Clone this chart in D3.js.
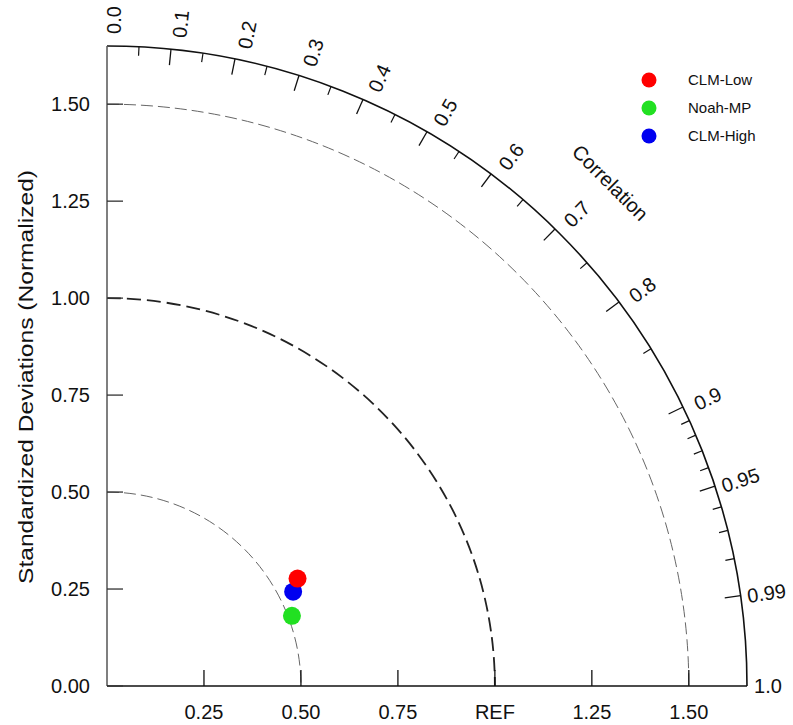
<!DOCTYPE html>
<html>
<head>
<meta charset="utf-8">
<script src="https://cdn.jsdelivr.net/npm/d3@7"></script>
<style>
  body { margin: 0; background: #fff; }
  text { font-family: "Liberation Sans", Arial, sans-serif; fill: #111; }
</style>
</head>
<body>
<script>
// Taylor diagram data
var models = ["CLM-Low", "Noah-MP", "CLM-High"];
var stdDev = [0.564, 0.510, 0.538];
var correlation = [0.871, 0.935, 0.892];
var colors = ["#ff0000", "#22e022", "#0000f0"];

// axis ticks
var stdTicks = [0.25, 0.5, 0.75, 1.0, 1.25, 1.5];
var xTickLabels = ["0.25", "0.50", "0.75", "REF", "1.25", "1.50"];
var yTicks = [0, 0.25, 0.5, 0.75, 1.0, 1.25, 1.5];
var yTickLabels = ["0.00", "0.25", "0.50", "0.75", "1.00", "1.25", "1.50"];
var corrLabelValues = [0, 0.1, 0.2, 0.3, 0.4, 0.5, 0.6, 0.7, 0.8, 0.9, 0.95, 0.99, 1.0];
var corrLabels = ["0.0", "0.1", "0.2", "0.3", "0.4", "0.5", "0.6", "0.7", "0.8", "0.9", "0.95", "0.99", "1.0"];
var corrMajor = [0.1, 0.2, 0.3, 0.4, 0.5, 0.6, 0.7, 0.8, 0.9, 0.95, 0.99];
var corrMinor = [0.05, 0.15, 0.25, 0.35, 0.45, 0.55, 0.65, 0.75, 0.85,
                 0.91, 0.92, 0.93, 0.94, 0.96, 0.97, 0.98];
var stdArcs = [0.5, 1.0, 1.5];
var maxStd = 1.65;

var svgWidth = 793;
var svgHeight = 725;
var origin = { x: 107, y: 686 };

var svg = d3.select("body")
  .append("svg")
  .attr("width", svgWidth)
  .attr("height", svgHeight);

var g = svg.append("g")
  .attr("transform", `translate(${origin.x}, ${origin.y})`);

// radius scale (std dev -> pixels)
var rScale = d3.scaleLinear()
  .domain([0, maxStd])
  .range([0, 640]);
var R = rScale(maxStd);

// helper: polar to xy (angle from x axis, counter clockwise)
function px(r, a) { return r * Math.cos(a); }
function py(r, a) { return -r * Math.sin(a); }

function quarterArc(r) {
  var p = d3.path();
  p.moveTo(0, -r);
  p.arc(0, 0, r, -Math.PI / 2, 0, false);
  return p.toString();
}

// std dev arcs
g.selectAll(".stdarc")
  .data(stdArcs)
  .enter()
  .append("path")
  .attr("d", d => quarterArc(rScale(d)))
  .attr("fill", "none")
  .attr("stroke", d => d === 1 ? "#222" : "#666")
  .attr("stroke-width", d => d === 1 ? 1.8 : 1)
  .attr("stroke-dasharray", d => d === 1 ? "14,6" : "12,5");

// outer arc
g.append("path")
  .attr("d", quarterArc(R))
  .attr("fill", "none")
  .attr("stroke", "#111")
  .attr("stroke-width", 1.6);

// axes lines
g.append("line")
  .attr("x1", 0).attr("y1", 0).attr("x2", 0).attr("y2", -R)
  .attr("stroke", "#555").attr("stroke-width", 1.5);
g.append("line")
  .attr("x1", 0).attr("y1", 0).attr("x2", R).attr("y2", 0)
  .attr("stroke", "#111").attr("stroke-width", 1.5);

// x ticks
g.selectAll(".xtick")
  .data(stdTicks)
  .enter()
  .append("line")
  .attr("x1", d => rScale(d)).attr("x2", d => rScale(d))
  .attr("y1", 0).attr("y2", -16)
  .attr("stroke", "#111").attr("stroke-width", 1.3);

g.selectAll(".xlabel")
  .data(stdTicks)
  .enter()
  .append("text")
  .attr("x", d => rScale(d))
  .attr("y", 33)
  .attr("text-anchor", "middle")
  .attr("font-size", "20px")
  .text((d, i) => xTickLabels[i]);

// y ticks
g.selectAll(".ytick")
  .data(yTicks)
  .enter()
  .append("line")
  .attr("x1", 0).attr("x2", 16)
  .attr("y1", d => -rScale(d)).attr("y2", d => -rScale(d))
  .attr("stroke", "#333").attr("stroke-width", 1.3);

g.selectAll(".ylabel")
  .data(yTicks)
  .enter()
  .append("text")
  .attr("x", -17)
  .attr("y", d => -rScale(d))
  .attr("dy", "0.36em")
  .attr("text-anchor", "end")
  .attr("font-size", "20px")
  .text((d, i) => yTickLabels[i]);

// correlation ticks
g.selectAll(".cmajor")
  .data(corrMajor)
  .enter()
  .append("line")
  .attr("x1", d => px(R, Math.acos(d))).attr("y1", d => py(R, Math.acos(d)))
  .attr("x2", d => px(R - 16, Math.acos(d))).attr("y2", d => py(R - 16, Math.acos(d)))
  .attr("stroke", "#111").attr("stroke-width", 1.3);

g.selectAll(".cminor")
  .data(corrMinor)
  .enter()
  .append("line")
  .attr("x1", d => px(R, Math.acos(d))).attr("y1", d => py(R, Math.acos(d)))
  .attr("x2", d => px(R - 9, Math.acos(d))).attr("y2", d => py(R - 9, Math.acos(d)))
  .attr("stroke", "#111").attr("stroke-width", 1.2);

// correlation labels, rotated along the radius
g.selectAll(".clabel")
  .data(corrLabelValues)
  .enter()
  .append("text")
  .attr("transform", function (d) {
    var a = Math.acos(d);
    var rr = R + (d === 1 ? 21 : 26);
    var off = 7 * Math.sin(a);
    // move toward smaller angle by off
    var x = px(rr, a) + off * Math.sin(a);
    var y = py(rr, a) + off * Math.cos(a);
    return `translate(${x}, ${y}) rotate(${-a * 180 / Math.PI})`;
  })
  .attr("text-anchor", "middle")
  .attr("dy", "0.36em")
  .attr("font-size", "20px")
  .text((d, i) => corrLabels[i]);

// "Correlation" title
var ca = Math.PI / 4;
g.append("text")
  .attr("transform", `translate(${px(712, ca)}, ${py(712, ca)}) rotate(45)`)
  .attr("text-anchor", "middle")
  .attr("dy", "0.36em")
  .attr("font-size", "20px")
  .text("Correlation");

// y axis title
svg.append("text")
  .attr("transform", "translate(26, 377) rotate(-90)")
  .attr("text-anchor", "middle")
  .attr("dy", "0.36em")
  .attr("font-size", "20px")
  .attr("textLength", 414)
  .attr("lengthAdjust", "spacingAndGlyphs")
  .text("Standardized Deviations (Normalized)");

// model points (drawn in reverse so CLM-Low is on top)
var order = d3.range(models.length).reverse();
g.selectAll(".pt")
  .data(order)
  .enter()
  .append("circle")
  .attr("cx", i => px(rScale(stdDev[i]), Math.acos(correlation[i])))
  .attr("cy", i => py(rScale(stdDev[i]), Math.acos(correlation[i])))
  .attr("r", 9)
  .attr("fill", i => colors[i]);

// legend
var legend = svg.append("g")
  .attr("transform", "translate(649, 80)");

legend.selectAll("circle")
  .data(models)
  .enter()
  .append("circle")
  .attr("cx", 0)
  .attr("cy", (d, i) => i * 28)
  .attr("r", 7.5)
  .attr("fill", (d, i) => colors[i]);

legend.selectAll("text")
  .data(models)
  .enter()
  .append("text")
  .attr("x", 39)
  .attr("y", (d, i) => i * 28)
  .attr("dy", "0.36em")
  .attr("font-size", "15px")
  .text(d => d);
</script>
</body>
</html>
